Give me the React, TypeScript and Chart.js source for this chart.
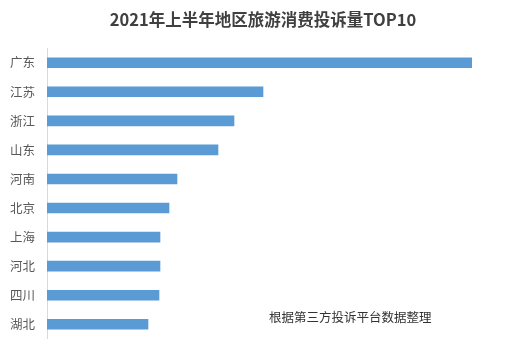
import React, { useEffect, useRef } from "react";
import { Chart, registerables } from "chart.js";

Chart.register(...registerables);

const categories = ["广东", "江苏", "浙江", "山东", "河南", "北京", "上海", "河北", "四川", "湖北"];
const complaints = [425, 216, 187, 171, 130, 122, 113, 113, 112, 101];
const titleText = "2021年上半年地区旅游消费投诉量TOP10";
const noteText = "根据第三方投诉平台数据整理";

const FONT = "'Noto Sans CJK SC', 'Noto Sans', sans-serif";

const textPlugin = {
  id: "textPlugin",
  afterDraw(chart: any) {
    const ctx = chart.ctx;
    ctx.save();
    ctx.fillStyle = "#404040";
    ctx.font = `bold 16.5px ${FONT}`;
    ctx.textAlign = "center";
    ctx.textBaseline = "middle";
    ctx.fillText(titleText, 263, 20);
    ctx.fillStyle = "#333333";
    ctx.font = `12.5px ${FONT}`;
    ctx.textAlign = "left";
    ctx.fillText(noteText, 269, 317);
    ctx.restore();
  },
};

export default function App() {
  const ref = useRef<HTMLCanvasElement>(null);
  useEffect(() => {
    const chart = new Chart(ref.current!, {
      type: "bar",
      data: {
        labels: categories,
        datasets: [
          {
            data: complaints,
            backgroundColor: "#5B9BD5",
            borderWidth: 0,
            barThickness: 10,
          },
        ],
      },
      options: {
        indexAxis: "y",
        animation: false,
        responsive: false,
        maintainAspectRatio: false,
        layout: { padding: { top: 48.2, bottom: 13.2, right: 56, left: 0 } },
        plugins: {
          legend: { display: false },
          title: { display: false },
          tooltip: { enabled: false },
        },
        scales: {
          x: { display: false, min: 0, max: 425 },
          y: {
            afterFit: (s: any) => {
              s.width = 47;
              s.paddingTop = 0;
              s.paddingBottom = 0;
            },
            grid: { display: false, drawTicks: false },
            border: { display: true, color: "#d9d9d9", width: 1 },
            ticks: {
              padding: 12,
              color: "#595959",
              font: { size: 12.5, family: FONT },
            },
          },
        },
      },
      plugins: [textPlugin],
    });
    return () => chart.destroy();
  }, []);
  return (
    <div style={{ position: "fixed", left: 0, top: 0, width: 528, height: 352, background: "#fff" }}>
      <canvas ref={ref} width={528} height={352} style={{ width: 528, height: 352 }} />
    </div>
  );
}
